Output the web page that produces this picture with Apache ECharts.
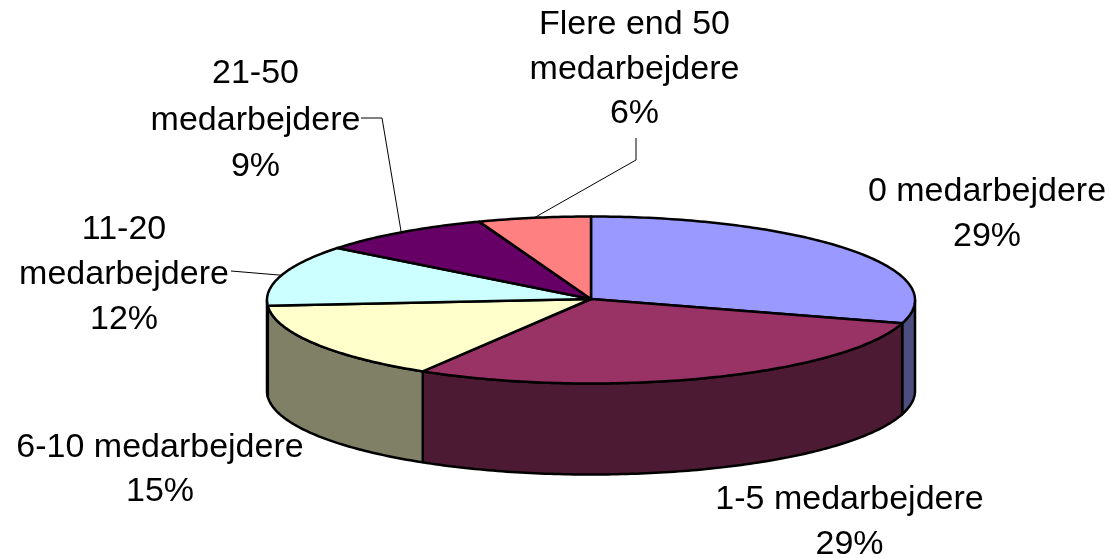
<!DOCTYPE html>
<html>
<head>
<meta charset="utf-8">
<style>html,body{margin:0;padding:0;background:#fff}#c{width:1110px;height:558px}</style>
<script src="https://cdn.jsdelivr.net/npm/echarts@6/dist/echarts.min.js"></script>
</head>
<body>
<div id="c"></div>
<script>
const categories = ['0 medarbejdere', '1-5 medarbejdere', '6-10 medarbejdere', '11-20\nmedarbejdere', '21-50\nmedarbejdere', 'Flere end 50\nmedarbejdere'];
const values = [29.49, 29.2, 15.2, 11.8, 8.7, 5.61];

const topColors = ['#9999FF', '#993366', '#FFFFCC', '#CCFFFF', '#660066', '#FF8080'];
const sideColors = ['#4D4D80', '#4D1A33', '#808066', '#668080', '#330033', '#804040'];
const pie = { cx: 591, cy: 300, rx: 324, ry: 83.5, depth: 91 };
// label centre x, first-line y; leader path start points (null = no leader)
const labelX = [987, 849.5, 160, 124, 255.5, 634.5];
const labelY = [192, 500, 448, 230, 74, 25];
const labelLineH = [45, 45, 44, 45, 46.5, 44.5];
const leaders = [null, null, null, [[231, 271]], [[361, 118], [382, 118]], [[636, 138], [636, 160]]];

const total = values.reduce((a, b) => a + b, 0);
const cumulative = [];
values.reduce((acc, v, i) => (cumulative[i] = acc, acc + v), 0);

// angle measured clockwise from the top of the pie
const toPoint = (ang, dy) => [pie.cx + pie.rx * Math.sin(ang), pie.cy - pie.ry * Math.cos(ang) + (dy || 0)];
const arc = (a, b, dy) => {
  const n = Math.max(2, Math.ceil(Math.abs(b - a) / 0.015));
  const pts = [];
  for (let i = 0; i <= n; i++) pts.push(toPoint(a + (b - a) * i / n, dy));
  return pts;
};
const edge = { stroke: '#000', lineWidth: 2.5, lineJoin: 'round' };

function renderItem(params, api) {
  const i = params.dataIndex;
  const a = cumulative[i] / total * 2 * Math.PI;
  const b = (cumulative[i] + api.value(0)) / total * 2 * Math.PI;
  const children = [];
  const s = Math.max(a, Math.PI / 2), e = Math.min(b, Math.PI * 1.5);
  if (s < e) {
    children.push({
      type: 'polygon',
      shape: { points: arc(s, e, 0).concat(arc(e, s, pie.depth)) },
      style: Object.assign({ fill: sideColors[i] }, edge)
    });
  }
  children.push({
    type: 'polygon',
    shape: { points: [[pie.cx, pie.cy - 1]].concat(arc(a, b, 0)) },
    style: Object.assign({ fill: topColors[i] }, edge)
  });
  if (leaders[i]) {
    children.push({
      type: 'polyline',
      shape: { points: leaders[i].concat([toPoint((a + b) / 2, 0)]) },
      style: { fill: null, stroke: '#000', lineWidth: 1 }
    });
  }
  const lines = (categories[i] + '\n' + Math.round(api.value(0) / total * 100) + '%').split('\n');
  lines.forEach((t, k) => {
    children.push({
      type: 'text',
      style: {
        text: t, x: labelX[i], y: labelY[i] + k * labelLineH[i],
        textAlign: 'center', textVerticalAlign: 'middle',
        fontFamily: '"Liberation Sans", Arial, sans-serif', fontSize: 34, fill: '#000'
      }
    });
  });
  return { type: 'group', children };
}

const chart = echarts.init(document.getElementById('c'), null, { renderer: 'canvas' });
chart.setOption({
  animation: false,
  backgroundColor: '#fff',
  series: [{
    type: 'custom',
    coordinateSystem: 'none',
    silent: true,
    clip: false,
    renderItem,
    data: values.map((v, i) => ({ name: categories[i], value: [v] }))
  }]
});
</script>
</body>
</html>
